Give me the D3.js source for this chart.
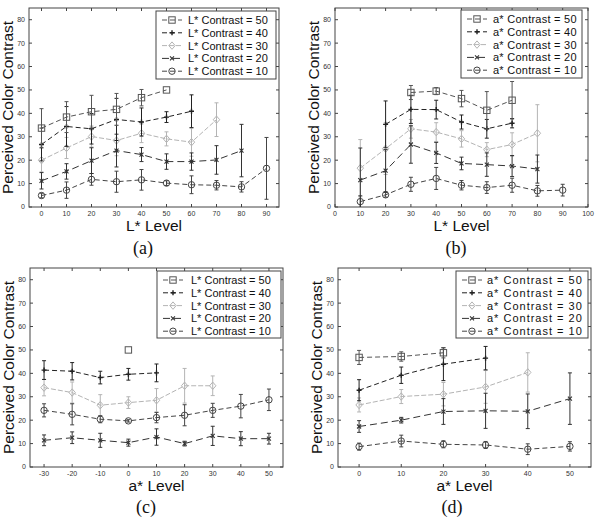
<!DOCTYPE html>
<html>
<head>
<meta charset="utf-8">
<script src="https://cdn.jsdelivr.net/npm/d3@7"></script>
<style>
  body { margin: 0; background: #fff; }
  text { font-family: "Liberation Sans", Arial, sans-serif; }
</style>
</head>
<body>
<svg id="chart" width="595" height="518"></svg>
<script>
// ---- data ----
const contrastLevels = [50, 40, 30, 20, 10];
const yTicks = [0, 10, 20, 30, 40, 50, 60, 70, 80];
const xTicksA = [0, 10, 20, 30, 40, 50, 60, 70, 80, 90];
const xTicksB = [0, 10, 20, 30, 40, 50, 60, 70, 80, 90, 100];
const xTicksC = [-30, -20, -10, 0, 10, 20, 30, 40, 50];
const xTicksD = [0, 10, 20, 30, 40, 50];

// (a) L* level vs perceived contrast, L* contrast series
const a50 = { x: [0, 10, 20, 30, 40, 50], y: [33.7, 38.4, 40.7, 41.7, 46.7, 50.0], e: [8.3, 6.6, 7.0, 6.8, 3.5, 0] };
const a40 = { x: [0, 10, 20, 30, 40, 50, 60], y: [26.7, 34.4, 33.4, 37.4, 36.3, 38.4, 40.9], e: [7, 8.5, 6.5, 9, 6, 2.3, 7] };
const a30 = { x: [0, 10, 20, 30, 40, 50, 60, 70], y: [20, 25.2, 30.1, 28.4, 31.5, 29.1, 27.7, 37.3], e: [5, 4.5, 4.5, 6.5, 4, 3, 6, 7.2] };
const a20 = { x: [0, 10, 20, 30, 40, 50, 60, 70, 80], y: [11.2, 15.2, 19.8, 24.1, 22.4, 19.4, 19.4, 20.1, 24.1], e: [3.5, 3.3, 5.5, 7, 3, 3.3, 3.7, 6.1, 11.2] };
const a10 = { x: [0, 10, 20, 30, 40, 50, 60, 70, 80, 90], y: [4.9, 7.2, 11.8, 10.8, 11.6, 10.2, 9.5, 9.3, 8.6, 16.5], e: [1, 3.5, 2.5, 4.5, 4.4, 1, 3.8, 2, 2.2, 13.2] };

// (b) L* level, a* contrast series
const b50 = { x: [30, 40, 50, 60, 70], y: [48.9, 49.5, 46.3, 41.3, 45.6], e: [3, 1.5, 3.5, 8, 8] };
const b40 = { x: [20, 30, 40, 50, 60, 70], y: [35.3, 41.7, 41.6, 36.3, 33.4, 35.8], e: [10, 6, 4, 3, 4, 2] };
const b30 = { x: [10, 20, 30, 40, 50, 60, 70, 80], y: [16.6, 24.9, 33.4, 32, 29.1, 24.5, 26.7, 31.5], e: [12.2, 11, 4, 4, 3.5, 3, 5, 12.2] };
const b20 = { x: [10, 20, 30, 40, 50, 60, 70, 80], y: [11.5, 15.5, 26.7, 23.1, 18.6, 18.1, 17.5, 16.2], e: [13.7, 9, 8, 4.5, 2.7, 5, 4.5, 6] };
const b10 = { x: [10, 20, 30, 40, 50, 60, 70, 80, 90], y: [2.3, 5.2, 9.7, 12.2, 9.3, 8.3, 9.3, 6.9, 7.2], e: [2.5, 1, 3, 4.7, 2, 2.5, 3, 2.3, 2.5] };

// (c) a* level, L* contrast series
const c50 = { x: [0], y: [50], e: [0] };
const c40 = { x: [-30, -20, -10, 0, 10], y: [41.4, 40.9, 38.2, 39.6, 40.2], e: [4, 3.7, 2.7, 2.5, 3.8] };
const c30 = { x: [-30, -20, -10, 0, 10, 20, 30], y: [33.9, 31.8, 26.4, 27.5, 28.5, 34.7, 34.7], e: [3.5, 4.5, 4.5, 2.5, 5, 7.4, 4.2] };
const c20 = { x: [-30, -20, -10, 0, 10, 20, 30, 40, 50], y: [11.4, 12.5, 11.4, 10.4, 12.8, 10, 13.3, 12.1, 12.1], e: [2.3, 2.5, 3, 1.5, 3.5, 1, 4.1, 3, 2.3] };
const c10 = { x: [-30, -20, -10, 0, 10, 20, 30, 40, 50], y: [24.2, 22.5, 20.4, 19.7, 21.1, 22.1, 24.2, 26, 28.7], e: [2.8, 4.5, 1.5, 0.5, 2.2, 4.5, 3, 5, 4.6] };

// (d) a* level, a* contrast series
const d50 = { x: [0, 10, 20], y: [46.8, 47.2, 48.8], e: [3, 2, 2.2] };
const d40 = { x: [0, 10, 20, 30], y: [32.8, 39.2, 43.9, 46.5], e: [4.5, 3.5, 7, 5] };
const d30 = { x: [0, 10, 20, 30, 40], y: [26.5, 30.1, 31.1, 34.2, 40.4], e: [3, 3, 5, 7, 8.4] };
const d20 = { x: [0, 10, 20, 30, 40, 50], y: [17.3, 20, 23.7, 24, 23.8, 29.2], e: [2.5, 1.2, 5.5, 7.5, 7.4, 11] };
const d10 = { x: [0, 10, 20, 30, 40, 50], y: [8.7, 11.1, 9.7, 9.4, 7.6, 8.8], e: [1.5, 2.5, 1.5, 1.5, 2.3, 2] };

// ---- styles per contrast level (same order as contrastLevels) ----
const seriesStyle = [
  { marker: 'square', color: '#555', dash: '5,3' },
  { marker: 'plus', color: '#222', dash: '5,3' },
  { marker: 'diamond', color: '#b4b4b4', dash: '5,2' },
  { marker: 'x', color: '#333', dash: '7,4' },
  { marker: 'circle', color: '#444', dash: '5,3' },
];

const panels = [
  { cap: '(a)', capX: 143, capY: 254, xLabel: 'L* Level', legendName: 'L*',
    box: [29, 279, 8, 207], xDomain: [-5, 95], xTicks: xTicksA,
    legend: { x: 156, y: 11, w: 120, h: 68, fs: 11, ls: 0, lx: 162, tx: 188 },
    series: [a50, a40, a30, a20, a10] },
  { cap: '(b)', capX: 456, capY: 254, xLabel: 'L* Level', legendName: 'a*',
    box: [335, 588, 8, 207], xDomain: [0, 100], xTicks: xTicksB,
    legend: { x: 461, y: 10, w: 121, h: 68, fs: 11, ls: 0.25, lx: 467, tx: 493 },
    series: [b50, b40, b30, b20, b10] },
  { cap: '(c)', capX: 146, capY: 513, xLabel: 'a* Level', legendName: 'L*',
    box: [30, 283, 268, 467], xDomain: [-35, 55], xTicks: xTicksC,
    legend: { x: 157, y: 271, w: 124, h: 67, fs: 11, ls: 0, lx: 163, tx: 191 },
    series: [c50, c40, c30, c20, c10] },
  { cap: '(d)', capX: 452, capY: 513, xLabel: 'a* Level', legendName: 'a*',
    box: [338, 591, 268, 467], xDomain: [-5, 55], xTicks: xTicksD,
    legend: { x: 456, y: 271, w: 132, h: 67, fs: 11, ls: 1.0, lx: 462, tx: 487 },
    series: [d50, d40, d30, d20, d10] },
];

const svg = d3.select('#chart');

const drawMarker = (g, type, cx, cy, color) => {
  const s = 3.2;
  if (type === 'square') {
    g.append('rect').attr('x', cx - s).attr('y', cy - s).attr('width', 2 * s).attr('height', 2 * s)
      .attr('fill', 'none').attr('stroke', color).attr('stroke-width', 1);
  } else if (type === 'circle') {
    g.append('circle').attr('cx', cx).attr('cy', cy).attr('r', s)
      .attr('fill', 'none').attr('stroke', color).attr('stroke-width', 1);
  } else if (type === 'diamond') {
    g.append('path').attr('d', `M${cx},${cy - s - 0.5}L${cx + s},${cy}L${cx},${cy + s + 0.5}L${cx - s},${cy}Z`)
      .attr('fill', 'none').attr('stroke', color).attr('stroke-width', 1);
  } else if (type === 'plus') {
    g.append('path').attr('d', `M${cx - 2.5},${cy}H${cx + 2.5}M${cx},${cy - 2.5}V${cy + 2.5}`)
      .attr('stroke', color).attr('stroke-width', 1.4);
  } else if (type === 'x') {
    g.append('path').attr('d', `M${cx - 2},${cy - 2}L${cx + 2},${cy + 2}M${cx - 2},${cy + 2}L${cx + 2},${cy - 2}`)
      .attr('stroke', color).attr('stroke-width', 1.1);
  }
};

panels.forEach((p, pi) => {
  const [x0, x1, y0, y1] = p.box;
  const x = d3.scaleLinear().domain(p.xDomain).range([x0, x1]);
  const y = d3.scaleLinear().domain([0, 85]).range([y1, y0]);
  const g = svg.append('g');

  // clip
  svg.append('clipPath').attr('id', 'clip' + pi)
    .append('rect').attr('x', x0).attr('y', y0).attr('width', x1 - x0).attr('height', y1 - y0);

  // ticks on all four sides (inward)
  const tickLen = 3;
  yTicks.forEach((t) => {
    g.append('line').attr('x1', x0).attr('x2', x0 + tickLen).attr('y1', y(t)).attr('y2', y(t)).attr('stroke', '#444');
    g.append('line').attr('x1', x1).attr('x2', x1 - tickLen).attr('y1', y(t)).attr('y2', y(t)).attr('stroke', '#444');
    g.append('text').attr('x', x0 - 4).attr('y', y(t)).attr('dy', '0.35em')
      .attr('text-anchor', 'end').attr('font-size', 7).attr('fill', '#333').text(t);
  });
  p.xTicks.forEach((t) => {
    g.append('line').attr('x1', x(t)).attr('x2', x(t)).attr('y1', y1).attr('y2', y1 - tickLen).attr('stroke', '#444');
    g.append('line').attr('x1', x(t)).attr('x2', x(t)).attr('y1', y0).attr('y2', y0 + tickLen).attr('stroke', '#444');
    g.append('text').attr('x', x(t)).attr('y', y1 + 9)
      .attr('text-anchor', 'middle').attr('font-size', 7).attr('fill', '#333').text(t);
  });

  // frame
  g.append('rect').attr('x', x0).attr('y', y0).attr('width', x1 - x0).attr('height', y1 - y0)
    .attr('fill', 'none').attr('stroke', '#444').attr('stroke-width', 1);

  // series (light one first so darker lines sit on top)
  const plot = g.append('g').attr('clip-path', `url(#clip${pi})`);
  const order = [2, 4, 3, 1, 0];
  order.forEach((si) => {
    const s = p.series[si];
    const st = seriesStyle[si];
    const pts = s.x.map((xv, i) => ({ x: xv, y: s.y[i], e: s.e[i] }));
    const sg = plot.append('g');
    // error bars
    pts.filter((d) => d.e > 0).forEach((d) => {
      const cx = x(d.x);
      sg.append('path')
        .attr('d', `M${cx},${y(d.y - d.e)}V${y(d.y + d.e)}M${cx - 2},${y(d.y - d.e)}H${cx + 2}M${cx - 2},${y(d.y + d.e)}H${cx + 2}`)
        .attr('stroke', st.color).attr('stroke-width', 1).attr('fill', 'none');
    });
    // line
    sg.append('path').datum(pts)
      .attr('d', d3.line().x((d) => x(d.x)).y((d) => y(d.y)))
      .attr('fill', 'none').attr('stroke', st.color).attr('stroke-width', 1)
      .attr('stroke-dasharray', st.dash);
    pts.forEach((d) => drawMarker(sg, st.marker, x(d.x), y(d.y), st.color));
  });

  // legend
  const L = p.legend;
  g.append('rect').attr('x', L.x).attr('y', L.y).attr('width', L.w).attr('height', L.h)
    .attr('fill', '#fff').attr('stroke', '#444').attr('stroke-width', 1);
  contrastLevels.forEach((c, i) => {
    const st = seriesStyle[i];
    const ry = L.y + 9 + i * 12.8;
    g.append('line').attr('x1', L.lx).attr('x2', L.lx + 20).attr('y1', ry).attr('y2', ry)
      .attr('stroke', st.color).attr('stroke-width', 1).attr('stroke-dasharray', st.dash);
    drawMarker(g, st.marker, L.lx + 10, ry, st.color);
    g.append('text').attr('x', L.tx).attr('y', ry).attr('dy', '0.36em')
      .attr('font-size', L.fs).attr('letter-spacing', L.ls).attr('fill', '#111')
      .text(`${p.legendName} Contrast = ${c}`);
  });

  // axis labels
  g.append('text')
    .attr('transform', `translate(${x0 - 16},${(y0 + y1) / 2}) rotate(-90)`)
    .attr('text-anchor', 'middle').attr('font-size', 15.5).attr('fill', '#111')
    .text('Perceived Color Contrast');
  g.append('text').attr('x', (x0 + x1) / 2).attr('y', y1 + 24)
    .attr('text-anchor', 'middle').attr('font-size', 15.5).attr('fill', '#111')
    .text(p.xLabel);
  g.append('text').attr('x', p.capX).attr('y', p.capY)
    .attr('text-anchor', 'middle').attr('font-size', 18).attr('fill', '#111')
    .style('font-family', '"Liberation Serif", "Times New Roman", serif')
    .text(p.cap);
});
</script>
</body>
</html>
